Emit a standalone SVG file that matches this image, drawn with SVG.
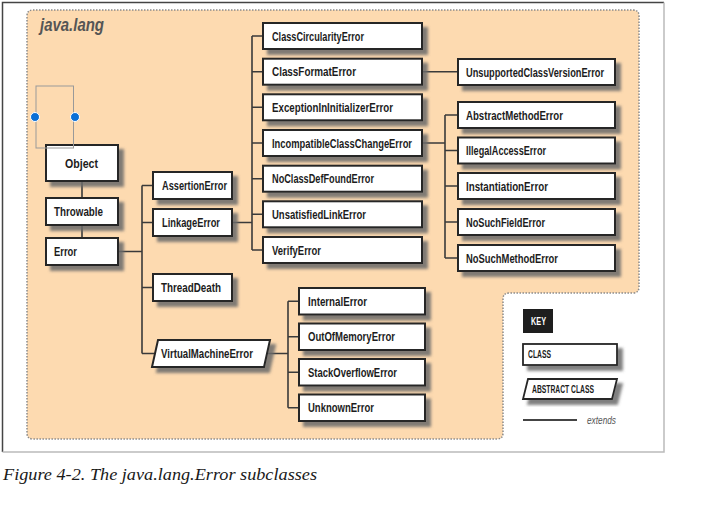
<svg xmlns="http://www.w3.org/2000/svg" width="714" height="508" viewBox="0 0 714 508">
<defs>
<filter id="sh" x="-10%" y="-20%" width="130%" height="160%">
<feGaussianBlur in="SourceAlpha" stdDeviation="1.6" result="b"/>
<feOffset in="b" dx="5" dy="5" result="o"/>
<feFlood flood-color="#6a6a6a" flood-opacity="0.85"/>
<feComposite in2="o" operator="in" result="s"/>
<feMerge><feMergeNode in="s"/><feMergeNode in="SourceGraphic"/></feMerge>
</filter>
<style>
.box{fill:#fff;stroke:#262626;stroke-width:2;filter:url(#sh)}
.lbl{font-family:"Liberation Sans",Arial,sans-serif;font-weight:bold;font-size:12px;fill:#1c1c1c}
.con{fill:none;stroke:#3a3a3a;stroke-width:1.6}
.small{font-family:"Liberation Sans",Arial,sans-serif;font-weight:bold;font-size:10px;fill:#1c1c1c}
</style>
</defs>
<rect width="714" height="508" fill="#fff"/>
<!-- frame -->
<path d="M2.5,452 V2.5 H664" fill="none" stroke="#444" stroke-width="1.5"/>
<path d="M664,2.5 V452 H2.5" fill="none" stroke="#bbb" stroke-width="1.5"/>
<!-- package area -->
<path d="M33,10 H633 Q639,10 639,16 V287 Q639,293 633,293 H509 Q503,293 503,299 V433 Q503,439 497,439 H33 Q27,439 27,433 V16 Q27,10 33,10 Z" fill="#fddab0" stroke="#8a8a8a" stroke-width="1.5" stroke-dasharray="1.5 1.5"/>
<text x="40" y="31" font-family="Liberation Sans,Arial,sans-serif" font-weight="bold" font-style="italic" font-size="18" fill="#555" textLength="64" lengthAdjust="spacingAndGlyphs">java.lang</text>
<!-- connectors -->
<g id="connectors" class="con">
<path d="M82,181 V198 M82,225 V238"/>
<path d="M118,251.5 H142 M142,185.5 V353.5 M142,185.5 H153 M142,222.5 H153 M142,287.5 H153 M142,353.5 H155"/>
<path d="M232,222.5 H252 M252,36 V250 M252,36 H263 M252,71.7 H263 M252,107.3 H263 M252,143 H263 M252,178.7 H263 M252,214.3 H263 M252,250 H263"/>
<path d="M422,71.7 H458"/>
<path d="M422,143 H445 M445,115 V258 M445,115 H458 M445,150.5 H458 M445,186 H458 M445,222 H458 M445,258 H458"/>
<path d="M267,353.5 H288 M288,301.3 V407.8 M288,301.3 H299 M288,336.8 H299 M288,372.3 H299 M288,407.8 H299"/>
</g>
<!-- column 1 -->
<g id="Object"><rect class="box" x="46" y="145" width="72" height="36"/><text class="lbl" x="65" y="168" font-size="13" textLength="33" lengthAdjust="spacingAndGlyphs">Object</text></g>
<g id="Throwable"><rect class="box" x="46" y="198" width="72" height="27"/><text class="lbl" x="54" y="216" textLength="49" lengthAdjust="spacingAndGlyphs">Throwable</text></g>
<g id="Error"><rect class="box" x="46" y="238" width="72" height="27"/><text class="lbl" x="54" y="256" textLength="23" lengthAdjust="spacingAndGlyphs">Error</text></g>
<!-- column 2 -->
<g id="AssertionError"><rect class="box" x="153" y="172" width="79" height="27"/><text class="lbl" x="162" y="190" textLength="65" lengthAdjust="spacingAndGlyphs">AssertionError</text></g>
<g id="LinkageError"><rect class="box" x="153" y="209" width="79" height="27"/><text class="lbl" x="162" y="227" textLength="58" lengthAdjust="spacingAndGlyphs">LinkageError</text></g>
<g id="ThreadDeath"><rect class="box" x="153" y="274" width="79" height="27"/><text class="lbl" x="161" y="292" textLength="60" lengthAdjust="spacingAndGlyphs">ThreadDeath</text></g>
<g id="VirtualMachineError"><polygon class="box" points="158,340 270,340 264,367 152,367"/><text class="lbl" x="161" y="358" textLength="92" lengthAdjust="spacingAndGlyphs">VirtualMachineError</text></g>
<!-- column 3 -->
<g id="ClassCircularityError"><rect class="box" x="263" y="23" width="159" height="26"/><text class="lbl" x="272" y="40.5" textLength="92" lengthAdjust="spacingAndGlyphs">ClassCircularityError</text></g>
<g id="ClassFormatError"><rect class="box" x="263" y="58.7" width="159" height="26"/><text class="lbl" x="272" y="76.2" textLength="84" lengthAdjust="spacingAndGlyphs">ClassFormatError</text></g>
<g id="ExceptionInInitializerError"><rect class="box" x="263" y="94.3" width="159" height="26"/><text class="lbl" x="272" y="111.8" textLength="121" lengthAdjust="spacingAndGlyphs">ExceptionInInitializerError</text></g>
<g id="IncompatibleClassChangeError"><rect class="box" x="263" y="130" width="159" height="26"/><text class="lbl" x="272" y="147.5" textLength="140" lengthAdjust="spacingAndGlyphs">IncompatibleClassChangeError</text></g>
<g id="NoClassDefFoundError"><rect class="box" x="263" y="165.7" width="159" height="26"/><text class="lbl" x="272" y="183.2" textLength="102" lengthAdjust="spacingAndGlyphs">NoClassDefFoundError</text></g>
<g id="UnsatisfiedLinkError"><rect class="box" x="263" y="201.3" width="159" height="26"/><text class="lbl" x="272" y="218.8" textLength="94" lengthAdjust="spacingAndGlyphs">UnsatisfiedLinkError</text></g>
<g id="VerifyError"><rect class="box" x="263" y="237" width="159" height="26"/><text class="lbl" x="272" y="254.5" textLength="49" lengthAdjust="spacingAndGlyphs">VerifyError</text></g>
<!-- column 4 -->
<g id="UnsupportedClassVersionError"><rect class="box" x="458" y="59" width="157" height="26"/><text class="lbl" x="466" y="76.5" textLength="138" lengthAdjust="spacingAndGlyphs">UnsupportedClassVersionError</text></g>
<g id="AbstractMethodError"><rect class="box" x="458" y="102" width="157" height="26"/><text class="lbl" x="466" y="119.5" textLength="97" lengthAdjust="spacingAndGlyphs">AbstractMethodError</text></g>
<g id="IllegalAccessError"><rect class="box" x="458" y="137.5" width="157" height="26"/><text class="lbl" x="466" y="155" textLength="80" lengthAdjust="spacingAndGlyphs">IllegalAccessError</text></g>
<g id="InstantiationError"><rect class="box" x="458" y="173" width="157" height="26"/><text class="lbl" x="466" y="190.5" textLength="82" lengthAdjust="spacingAndGlyphs">InstantiationError</text></g>
<g id="NoSuchFieldError"><rect class="box" x="458" y="209" width="157" height="26"/><text class="lbl" x="466" y="226.5" textLength="79" lengthAdjust="spacingAndGlyphs">NoSuchFieldError</text></g>
<g id="NoSuchMethodError"><rect class="box" x="458" y="245" width="157" height="26"/><text class="lbl" x="466" y="262.5" textLength="92" lengthAdjust="spacingAndGlyphs">NoSuchMethodError</text></g>
<!-- VME children -->
<g id="InternalError"><rect class="box" x="299" y="288" width="126" height="26.5"/><text class="lbl" x="308" y="305.8" textLength="59" lengthAdjust="spacingAndGlyphs">InternalError</text></g>
<g id="OutOfMemoryError"><rect class="box" x="299" y="323.5" width="126" height="26.5"/><text class="lbl" x="308" y="341.3" textLength="87" lengthAdjust="spacingAndGlyphs">OutOfMemoryError</text></g>
<g id="StackOverflowError"><rect class="box" x="299" y="359" width="126" height="26.5"/><text class="lbl" x="308" y="376.8" textLength="89" lengthAdjust="spacingAndGlyphs">StackOverflowError</text></g>
<g id="UnknownError"><rect class="box" x="299" y="394.5" width="126" height="26.5"/><text class="lbl" x="308" y="412.3" textLength="66" lengthAdjust="spacingAndGlyphs">UnknownError</text></g>
<!-- key -->
<g id="key">
<rect x="523" y="309" width="30" height="24" fill="#1e1e1e"/>
<text class="small" x="531" y="325" style="fill:#fff;font-size:11px" textLength="15" lengthAdjust="spacingAndGlyphs">KEY</text>
<rect class="box" x="523" y="344" width="94" height="21" style="stroke-width:1.8"/>
<text class="small" x="528" y="358" textLength="23" lengthAdjust="spacingAndGlyphs">CLASS</text>
<polygon class="box" points="528,379 617,379 612,399 523,399" style="stroke-width:1.8"/>
<text class="small" x="532" y="393" textLength="62" lengthAdjust="spacingAndGlyphs">ABSTRACT CLASS</text>
<line x1="523" y1="420" x2="577" y2="420" stroke="#444" stroke-width="2"/>
<text x="587" y="424" font-family="Liberation Sans,Arial,sans-serif" font-style="italic" font-size="11" fill="#555" textLength="29" lengthAdjust="spacingAndGlyphs">extends</text>
</g>
<!-- selection artifact -->
<rect x="36" y="86" width="37.5" height="62" fill="none" stroke="#999" stroke-width="1"/>
<circle cx="35" cy="117" r="4.5" fill="#0a6fd6" stroke="#fff" stroke-width="1"/>
<circle cx="75" cy="117" r="4.5" fill="#0a6fd6" stroke="#fff" stroke-width="1"/>
<!-- caption -->
<text x="3" y="480" font-family="Liberation Serif,Times New Roman,serif" font-style="italic" font-size="17" fill="#1a1a1a" textLength="314" lengthAdjust="spacingAndGlyphs">Figure 4-2. The java.lang.Error subclasses</text>
</svg>
